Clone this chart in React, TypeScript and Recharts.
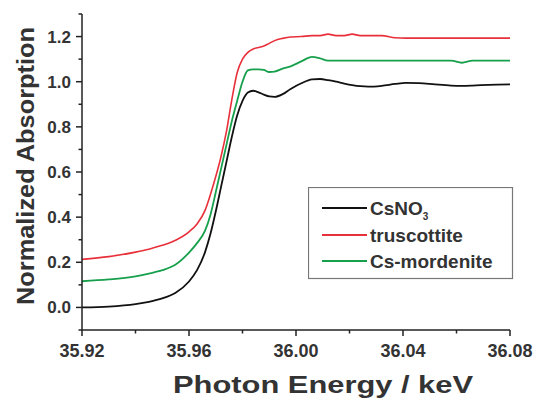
import React from 'react';
import { LineChart, Line, XAxis, YAxis, Legend } from 'recharts';

const energies = [
  35.920, 35.930, 35.940, 35.945, 35.950, 35.955, 35.960, 35.963, 35.966, 35.968,
  35.970, 35.972, 35.974, 35.976, 35.978, 35.980, 35.982, 35.984, 35.986, 35.988,
  35.990, 35.992, 35.995, 35.998, 36.002, 36.006, 36.009, 36.012, 36.015, 36.018,
  36.021, 36.024, 36.027, 36.032, 36.037, 36.041, 36.046, 36.052, 36.058, 36.062,
  36.066, 36.072, 36.080,
];

const csno3 = [
  0.000, 0.004, 0.015, 0.025, 0.040, 0.065, 0.115, 0.165, 0.245, 0.325,
  0.425, 0.535, 0.645, 0.755, 0.850, 0.915, 0.952, 0.960, 0.953, 0.943,
  0.935, 0.933, 0.945, 0.968, 0.993, 1.010, 1.012, 1.007, 1.000, 0.992,
  0.985, 0.980, 0.978, 0.982, 0.990, 0.995, 0.994, 0.988, 0.983, 0.982,
  0.983, 0.986, 0.988,
];

const truscottite = [
  0.213, 0.225, 0.245, 0.258, 0.275, 0.298, 0.335, 0.370, 0.430, 0.500,
  0.580, 0.670, 0.780, 0.920, 1.040, 1.100, 1.130, 1.145, 1.152, 1.158,
  1.170, 1.182, 1.192, 1.198, 1.200, 1.204, 1.204, 1.211, 1.204, 1.204,
  1.211, 1.204, 1.204, 1.204, 1.195, 1.193, 1.193, 1.193, 1.193, 1.193,
  1.193, 1.193, 1.193,
];

const mordenite = [
  0.116, 0.124, 0.138, 0.150, 0.165, 0.190, 0.243, 0.285, 0.340, 0.410,
  0.510, 0.615, 0.720, 0.825, 0.915, 1.000, 1.050, 1.055, 1.055, 1.052,
  1.043, 1.045, 1.058, 1.068, 1.090, 1.110, 1.103, 1.093, 1.093, 1.093,
  1.093, 1.093, 1.093, 1.093, 1.093, 1.093, 1.093, 1.093, 1.093, 1.084,
  1.093, 1.093, 1.093,
];

const xTicks = [35.92, 35.94, 35.96, 35.98, 36.0, 36.02, 36.04, 36.06, 36.08];
const yTicks = [-0.1, 0, 0.1, 0.2, 0.3, 0.4, 0.5, 0.6, 0.7, 0.8, 0.9, 1.0, 1.1, 1.2, 1.3];

const seriesNames = ['CsNO3', 'truscottite', 'Cs-mordenite'];
const seriesColors = ['#111111', '#e8303a', '#17a04c'];

const xTitle = 'Photon Energy / keV';
const yTitle = 'Normalized Absorption';

const data = energies.map((e, i) => ({
  e,
  csno3: csno3[i],
  truscottite: truscottite[i],
  mordenite: mordenite[i],
}));

const FONT = '"Liberation Sans", Arial, Helvetica, sans-serif';
const AXIS = '#222';
const TXT = '#333';

function XTick(props: any) {
  const { x, y, payload } = props;
  const v = payload.value as number;
  const idx = Math.round((v - 35.92) / 0.02);
  const major = idx % 2 === 0;
  return (
    <g>
      <line x1={x} x2={x} y1={y} y2={y + (major ? 6 : 3.5)} stroke={AXIS} strokeWidth={1.5} />
      {major && (
        <text x={x} y={y + 27} textAnchor="middle" fontSize={18} fontWeight="bold" fill={TXT} fontFamily={FONT}>
          {v.toFixed(2)}
        </text>
      )}
    </g>
  );
}

function YTick(props: any) {
  const { x, y, payload } = props;
  const v = payload.value as number;
  const k = Math.round(v * 10);
  const major = k >= 0 && k % 2 === 0;
  return (
    <g>
      <line x1={x} x2={x - (major ? 6 : 3.5)} y1={y} y2={y} stroke={AXIS} strokeWidth={1.5} />
      {major && (
        <text x={x - 11} y={y + 6} textAnchor="end" fontSize={17} fontWeight="bold" fill={TXT} fontFamily={FONT}>
          {v.toFixed(1)}
        </text>
      )}
    </g>
  );
}

function XTitle() {
  return (
    <text x={323} y={393} textAnchor="middle" fontSize={23} fontWeight="bold" fill={TXT} fontFamily={FONT}
      textLength={300} lengthAdjust="spacingAndGlyphs">
      {xTitle}
    </text>
  );
}

function YTitle() {
  return (
    <text x={34} y={166} textAnchor="middle" fontSize={23} fontWeight="bold" fill={TXT} fontFamily={FONT}
      transform="rotate(-90, 34, 166)" textLength={278} lengthAdjust="spacingAndGlyphs">
      {yTitle}
    </text>
  );
}

function LegendBox() {
  const rows = [21, 48, 74];
  return (
    <svg width={206} height={93} style={{ display: 'block' }}>
      <rect x={0.5} y={0.5} width={204} height={91} fill="#fff" stroke="#777" strokeWidth={1.2} />
      {seriesNames.map((name, i) => (
        <g key={name}>
          <line x1={14} x2={59} y1={rows[i]} y2={rows[i]} stroke={seriesColors[i]} strokeWidth={2} />
          <text x={62} y={rows[i] + 7} fontSize={19} fontWeight="bold" fill={TXT} fontFamily={FONT}>
            {name === 'CsNO3' ? (
              <>
                CsNO
                <tspan fontSize={10} dy={5}>3</tspan>
              </>
            ) : (
              name
            )}
          </text>
        </g>
      ))}
    </svg>
  );
}

export default function App() {
  return (
    <div style={{ position: 'absolute', left: 0, top: 0, width: 536, height: 398, background: '#fff' }}>
      <LineChart width={536} height={398} data={data} margin={{ top: 14, right: 26, bottom: 0, left: 0 }}>
        <XAxis
          dataKey="e"
          type="number"
          domain={[35.92, 36.08]}
          ticks={xTicks}
          interval={0}
          allowDataOverflow
          height={68}
          tickSize={0}
          tickMargin={0}
          tickLine={false}
          axisLine={{ stroke: AXIS, strokeWidth: 1.5 }}
          tick={<XTick />}
          label={<XTitle />}
        />
        <YAxis
          type="number"
          domain={[-0.1, 1.3]}
          ticks={yTicks}
          interval={0}
          allowDataOverflow
          width={82}
          tickSize={0}
          tickMargin={0}
          tickLine={false}
          axisLine={{ stroke: AXIS, strokeWidth: 1.5 }}
          tick={<YTick />}
          label={<YTitle />}
        />
        <Legend
          layout="horizontal"
          verticalAlign="middle"
          align="center"
          wrapperStyle={{ left: 308, top: 187, width: 206, height: 93 }}
          content={() => <LegendBox />}
        />
        <Line dataKey="truscottite" stroke={seriesColors[1]} strokeWidth={1.6} dot={false} type="monotone" isAnimationActive={false} />
        <Line dataKey="mordenite" stroke={seriesColors[2]} strokeWidth={1.8} dot={false} type="monotone" isAnimationActive={false} />
        <Line dataKey="csno3" stroke={seriesColors[0]} strokeWidth={1.8} dot={false} type="monotone" isAnimationActive={false} />
      </LineChart>
    </div>
  );
}
